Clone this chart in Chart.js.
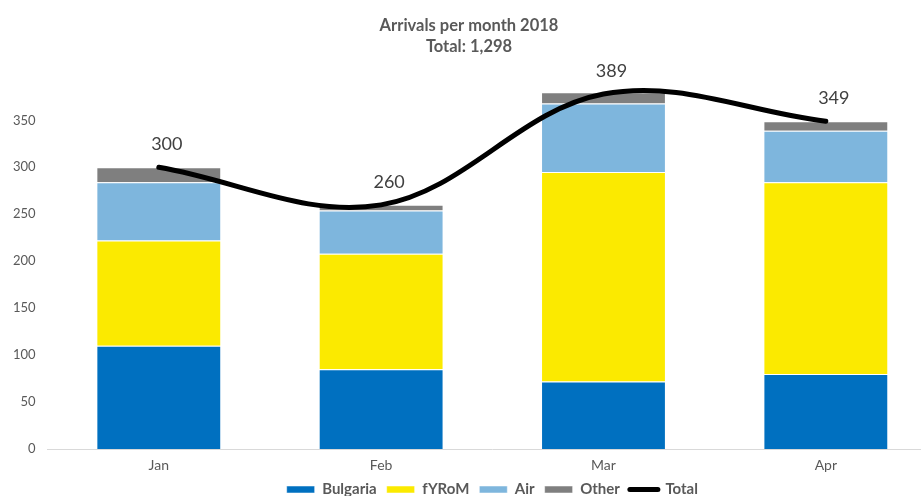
<!DOCTYPE html>
<html>
<head>
<meta charset="utf-8">
<title>Arrivals per month 2018</title>
<script src="https://cdn.jsdelivr.net/npm/chart.js@4.4.1/dist/chart.umd.min.js"></script>
<style>
  html, body { margin: 0; padding: 0; background: #fff; }
  #wrap { width: 921px; height: 496px; overflow: hidden; }
  canvas { display: block; }
</style>
</head>
<body>
<div id="wrap"><canvas id="myChart" width="937" height="507"></canvas></div>
<script>
var months = ["Jan", "Feb", "Mar", "Apr"];
var bulgaria = [110, 85, 72, 80];
var fyrom = [112, 123, 223, 204];
var air = [62, 46, 73, 55];
var other = [16, 6, 12, 10];
var totalLine = [300, 260, 378, 349];
var totalLabels = ["300", "260", "389", "349"];
var yTicks = [0, 50, 100, 150, 200, 250, 300, 350];

Chart.defaults.font.family = "Lato, 'Open Sans', sans-serif";

// labels over the Total line
var totalLabelPlugin = {
  id: "totalLabels",
  afterDatasetsDraw: function (chart) {
    var meta = chart.getDatasetMeta(4);
    var ctx = chart.ctx;
    ctx.save();
    ctx.font = "18px Lato";
    ctx.fillStyle = "#404040";
    ctx.textAlign = "center";
    ctx.textBaseline = "middle";
    meta.data.forEach(function (pt, i) {
      ctx.fillText(totalLabels[i], pt.x + 8, pt.y - 23);
    });
    ctx.restore();
  },
};

function barSet(label, values, color) {
  return {
    type: "bar",
    label: label,
    data: values,
    backgroundColor: color,
    borderColor: "rgba(255,255,255,0.5)",
    borderWidth: 1,
    pointStyle: "rect",
    stack: "arrivals",
    order: 1,
    categoryPercentage: 0.5616,
    barPercentage: 1,
  };
}

var ctx = document.getElementById("myChart").getContext("2d");
var myChart = new Chart(ctx, {
  data: {
    labels: months,
    datasets: [
      barSet("Bulgaria", bulgaria, "#0070C0"),
      barSet("fYRoM", fyrom, "#FBEA00"),
      barSet("Air", air, "#7EB6DD"),
      barSet("Other", other, "#7F7F7F"),
      {
        type: "line",
        label: "Total",
        data: totalLine,
        borderColor: "#000",
        backgroundColor: "#000",
        borderWidth: 5,
        borderCapStyle: "round",
        tension: 0.36,
        pointRadius: 0,
        pointStyle: "line",
        pointBorderWidth: 5,
        pointBorderColor: "#000",
        stack: "total",
        order: 0,
      },
    ],
  },
  options: {
    responsive: false,
    animation: false,
    layout: { padding: { left: 1, right: 0, top: 0, bottom: 0 } },
    plugins: {
      tooltip: { enabled: false },
      title: {
        display: true,
        text: ["Arrivals per month 2018", "Total: 1,298"],
        color: "#595959",
        font: { size: 16.5, weight: "bold", lineHeight: 1.27 },
        padding: { top: 15.5, bottom: 16 },
      },
      legend: {
        position: "bottom",
        fullSize: false,
        labels: {
          usePointStyle: true,
          pointStyleWidth: 28,
          boxHeight: 7,
          padding: 10,
          color: "#595959",
          font: { size: 15, weight: "bold" },
          sort: function (a, b) {
            return a.datasetIndex - b.datasetIndex;
          },
          generateLabels: function (chart) {
            var items = Chart.defaults.plugins.legend.labels.generateLabels(chart);
            items.forEach(function (it) {
              if (it.text === "Total") it.lineCap = "round";
            });
            return items;
          },
        },
      },
    },
    scales: {
      x: {
        stacked: true,
        grid: { display: false, drawTicks: false },
        border: { display: true, color: "#d9d9d9", width: 1 },
        ticks: { color: "#595959", font: { size: 14 }, padding: 8 },
        afterFit: function (axis) {
          axis.height = 23;
        },
      },
      y: {
        stacked: true,
        min: 0,
        max: 400,
        grid: { display: false, drawTicks: false },
        border: { display: false },
        afterBuildTicks: function (axis) {
          axis.ticks = yTicks.map(function (v) {
            return { value: v };
          });
        },
        ticks: { color: "#595959", font: { size: 13 }, padding: 12 },
      },
    },
  },
  plugins: [totalLabelPlugin],
});
</script>
</body>
</html>
